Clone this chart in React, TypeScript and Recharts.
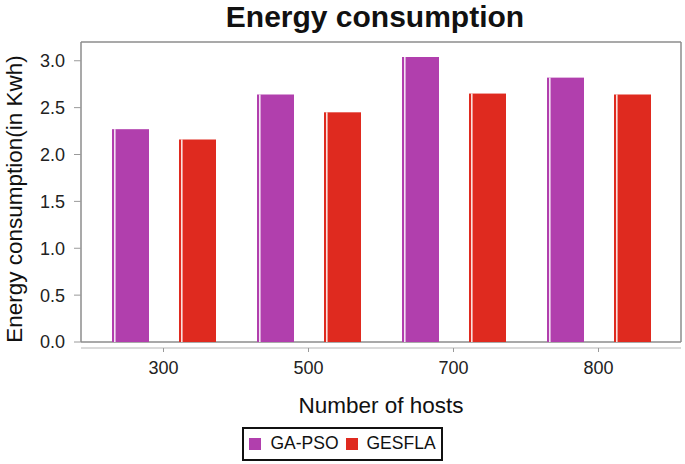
import React from "react";
import {
  BarChart,
  Bar,
  XAxis,
  YAxis,
  CartesianGrid,
  Legend,
  Label,
} from "recharts";

const hosts = ["300", "500", "700", "800"];
const gaPso = [2.27, 2.64, 3.04, 2.82];
const gesfla = [2.16, 2.45, 2.65, 2.64];
const yTicks = [0, 0.5, 1.0, 1.5, 2.0, 2.5, 3.0];

const PURPLE = "#b13fad";
const RED = "#df2a1f";
const FONT = "'Liberation Sans', Arial, sans-serif";

const data = hosts.map((h, i) => ({ hosts: h, gaPso: gaPso[i], gesfla: gesfla[i] }));

// bar with the thin light stripe near its left edge
function StripedBar(props: any) {
  const { x, y, width, height, fill } = props;
  if (!height || height <= 0) return null;
  return (
    <g>
      <rect x={x} y={y} width={width} height={height} fill={fill} />
      <rect x={x + 2} y={y} width={1.6} height={height} fill="#fff" opacity={0.85} />
    </g>
  );
}

function HostTick(props: any) {
  const { x, y, payload } = props;
  return (
    <g>
      <line x1={x} x2={x} y1={y + 6} y2={y + 10} stroke="#9a9a9a" />
      <text x={x} y={y + 32} textAnchor="middle" fontSize={18} fill="#222" fontFamily={FONT}>
        {payload.value}
      </text>
    </g>
  );
}

function LegendBox(props: any) {
  const items = props.payload || [];
  return (
    <div style={{ display: "flex", justifyContent: "center" }}>
      <div
        style={{
          display: "flex",
          alignItems: "center",
          border: "2px solid #111",
          padding: "4px 5px 5px 5px",
          fontFamily: FONT,
          fontSize: 17.5,
          color: "#111",
        }}
      >
        {items.map((it: any, i: number) => (
          <span key={i} style={{ display: "flex", alignItems: "center", marginRight: i === 0 ? 7 : 0 }}>
            <span style={{ width: 12, height: 12, background: it.color, marginRight: 9, display: "inline-block" }} />
            {it.value}
          </span>
        ))}
      </div>
    </div>
  );
}

export default function App() {
  return (
    <div style={{ position: "absolute", left: 0, top: 0, width: 685, height: 464, background: "#fff" }}>
      <div
        style={{
          position: "absolute",
          left: 0,
          top: 0,
          width: 750,
          textAlign: "center",
          fontFamily: FONT,
          fontWeight: "bold",
          fontSize: 30,
          color: "#111",
        }}
      >
        Energy consumption
      </div>
      <BarChart
        width={685}
        height={464}
        data={data}
        margin={{ top: 42, right: 4, bottom: 42, left: 0 }}
        barSize={37}
        barGap={30}
      >
        <CartesianGrid
          stroke="#8c8c8c"
          strokeWidth={1.5}
          horizontalCoordinatesGenerator={({ offset }: any) => [offset.top, offset.top + offset.height]}
          verticalCoordinatesGenerator={({ offset }: any) => [offset.left, offset.left + offset.width]}
        />
        <CartesianGrid
          stroke="#b5b5b5"
          vertical={false}
          horizontalCoordinatesGenerator={({ offset }: any) => [offset.top + offset.height + 6]}
        />
        <XAxis
          dataKey="hosts"
          height={80}
          padding={{ left: 10, right: 10 }}
          axisLine={false}
          tickLine={false}
          tickSize={0}
          tickMargin={0}
          tick={<HostTick />}
        >
          <Label
            value="Number of hosts"
            position="insideBottom"
            offset={9}
            style={{ fontSize: 22.5, fontFamily: FONT, fill: "#111" }}
          />
        </XAxis>
        <YAxis
          width={81}
          domain={[0, 3.2]}
          ticks={yTicks}
          interval={0}
          tickFormatter={(v: number) => v.toFixed(1)}
          axisLine={false}
          tickLine={{ stroke: "#9a9a9a" }}
          tickSize={7}
          tickMargin={9}
          tick={{ fontSize: 18, fill: "#222", fontFamily: FONT }}
        >
          <Label
            content={({ viewBox }: any) => {
              const cx = viewBox.x + 14;
              const cy = viewBox.y + viewBox.height / 2 + 7;
              return (
                <text
                  x={cx}
                  y={cy}
                  transform={`rotate(-90 ${cx} ${cy})`}
                  textAnchor="middle"
                  dominantBaseline="central"
                  fontSize={22.5}
                  fontFamily={FONT}
                  fill="#111"
                >
                  Energy consumption(in Kwh)
                </text>
              );
            }}
          />
        </YAxis>
        <Legend
          verticalAlign="middle"
          align="center"
          wrapperStyle={{ top: 427, left: 0, width: 685 }}
          content={<LegendBox />}
        />
        <Bar dataKey="gaPso" name="GA-PSO" fill={PURPLE} shape={<StripedBar />} isAnimationActive={false} />
        <Bar dataKey="gesfla" name="GESFLA" fill={RED} shape={<StripedBar />} isAnimationActive={false} />
      </BarChart>
    </div>
  );
}
